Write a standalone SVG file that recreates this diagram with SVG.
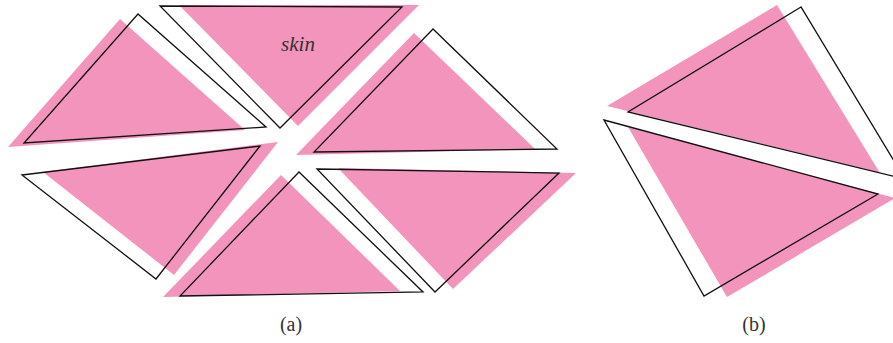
<svg xmlns="http://www.w3.org/2000/svg" width="893" height="343" viewBox="0 0 893 343">
<style>
.skin{fill:#f394bc;stroke:none}
.out{fill:none;stroke:#111;stroke-width:1.3;stroke-linejoin:miter}
.lbl{font-family:"Liberation Serif",serif;font-size:20px;fill:#333;text-anchor:middle}
.sk{font-family:"Liberation Serif",serif;font-style:italic;font-size:21px;fill:#333;text-anchor:middle}
</style>
<rect width="893" height="343" fill="#fff"/>
<g id="tri-a1"><polygon class="skin" points="120,19 8,147 245,130"/><polygon class="out" points="138,14 24,143 266,127"/></g>
<g id="tri-a2"><polygon class="skin" points="179,5 419,5 298,126"/><polygon class="out" points="160,6 402,7 280,128"/><text class="sk" x="298" y="51">skin</text></g>
<g id="tri-a3"><polygon class="skin" points="414,33 296,155 535,149"/><polygon class="out" points="433,29 314,152 557,149"/></g>
<g id="tri-a4"><polygon class="skin" points="43,172 278,142 174,275"/><polygon class="out" points="22,175 260,146 156,279"/></g>
<g id="tri-a5"><polygon class="skin" points="281,175 163,297 400,291"/><polygon class="out" points="299,172 180,296 423,292"/></g>
<g id="tri-a6"><polygon class="skin" points="338,168 576,173 453,289"/><polygon class="out" points="317,169 559,173 435,292"/></g>
<g id="tri-b1"><polygon class="skin" points="777,5 607,106 880,173"/></g>
<g id="tri-b2"><polygon class="skin" points="628,127 895,198 727,297"/></g>
<g id="tri-b1-out"><polygon class="out" points="801,7 628,112 905,179"/></g>
<g id="tri-b2-out"><polygon class="out" points="604,120 878,194 704,296"/></g>
<g id="connectors"></g>
<text class="lbl" x="291" y="331">(a)</text>
<text class="lbl" x="754" y="331">(b)</text>
</svg>
